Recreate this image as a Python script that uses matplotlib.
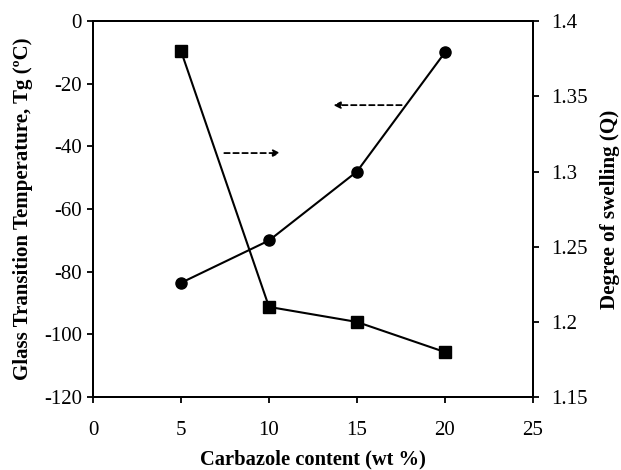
import matplotlib
matplotlib.use("Agg")
import matplotlib.pyplot as plt

carbazole = [5, 10, 15, 20]
tg_values = [-83.5, -70, -48, -10]
swelling_q = [1.38, 1.21, 1.20, 1.18]

x_ticks = [0, 5, 10, 15, 20, 25]
tg_ticks = [-120, -100, -80, -60, -40, -20, 0]
q_ticks = [1.15, 1.2, 1.25, 1.3, 1.35, 1.4]
q_tick_labels = ["1.15", "1.2", "1.25", "1.3", "1.35", "1.4"]

plt.rcParams["font.family"] = ["Liberation Serif", "DejaVu Serif"]
plt.rcParams["axes.unicode_minus"] = False

fig = plt.figure(figsize=(6.21, 4.70), dpi=100)
ax = fig.add_axes([0.150, 0.155, 0.708, 0.800])
ax2 = ax.twinx()

ax.plot(carbazole, tg_values, color="black", lw=1.5, marker="o", ms=8,
        markerfacecolor="black")
ax2.plot(carbazole, swelling_q, color="black", lw=1.5, marker="s", ms=8,
         markerfacecolor="black")

ax.set_xlim(0, 25)
ax.set_ylim(-120, 0)
ax2.set_ylim(1.15, 1.4)
ax.set_xticks(x_ticks)
ax.set_yticks(tg_ticks)
ax2.set_yticks(q_ticks)
ax2.set_yticklabels(q_tick_labels)

for a in (ax, ax2):
    a.tick_params(direction="out", length=4, width=1.3, labelsize=15,
                  colors="black")
    for sp in a.spines.values():
        sp.set_linewidth(1.4)
ax.tick_params(axis="x", pad=13)
ax.tick_params(axis="y", pad=4)
ax2.tick_params(axis="y", pad=9)

ax.set_xlabel("Carbazole content (wt %)", fontsize=14.8, fontweight="bold",
              labelpad=7)
ax.set_ylabel("Glass Transition Temperature, Tg (\u00baC)", fontsize=15,
              fontweight="bold", labelpad=8)
ax2.set_ylabel("Degree of swelling (Q)", fontsize=15.2, fontweight="bold",
               labelpad=9)

# dashed arrows pointing each curve to its own axis
ax.annotate("", xy=(13.5, -26.8), xytext=(17.7, -26.8),
            arrowprops=dict(arrowstyle="-|>", linestyle=(0, (3, 2)),
                            color="black", lw=1.3, mutation_scale=10))
ax.annotate("", xy=(10.8, -42.1), xytext=(7.3, -42.1),
            arrowprops=dict(arrowstyle="-|>", linestyle=(0, (3, 2)),
                            color="black", lw=1.3, mutation_scale=10))

fig.savefig("out.png", dpi=100)
